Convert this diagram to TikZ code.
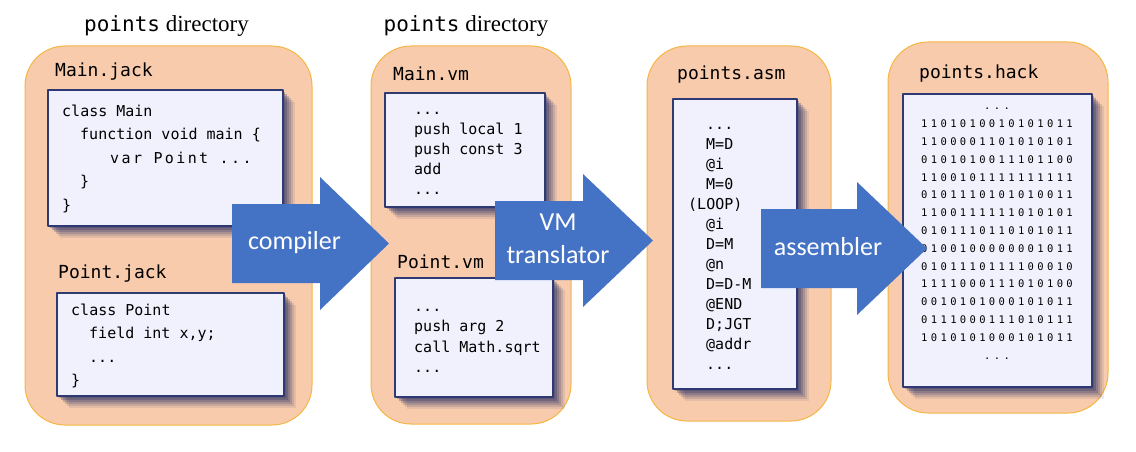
\documentclass[tikz,border=0pt]{standalone}
\usepackage{fontspec}
\setmainfont{Liberation Serif}
\setmonofont{DejaVu Sans Mono}
\newfontfamily\arrowfont{Carlito}
\newfontfamily\varmono[LetterSpace=16]{DejaVu Sans Mono}
\newfontfamily\binmono[LetterSpace=32]{DejaVu Sans Mono}
\usetikzlibrary{shadows}
\definecolor{panelfill}{RGB}{248,203,173}
\definecolor{paneledge}{RGB}{245,182,66}
\definecolor{boxfill}{RGB}{240,241,253}
\definecolor{boxedge}{RGB}{47,58,117}
\definecolor{shadowblue}{RGB}{52,56,104}
\definecolor{arrowblue}{RGB}{68,114,196}
\begin{document}
\begin{tikzpicture}[x=1pt, y=-1pt, line join=round, line cap=round,
		panel/.style={draw=paneledge, fill=panelfill, line width=1pt, rounded corners=40pt, inner sep=0pt},
		filebox/.style={draw=boxedge, fill=boxfill, line width=1.2pt, inner sep=0pt,
			drop shadow={shadow xshift=2pt, shadow yshift=-2pt, fill=shadowblue, opacity=.3},
			drop shadow={shadow xshift=4pt, shadow yshift=-4pt, fill=shadowblue, opacity=.3},
			drop shadow={shadow xshift=6pt, shadow yshift=-6pt, fill=shadowblue, opacity=.25},
			drop shadow={shadow xshift=8pt, shadow yshift=-8pt, fill=shadowblue, opacity=.2},
			drop shadow={shadow xshift=10pt, shadow yshift=-10pt, fill=shadowblue, opacity=.15},
			drop shadow={shadow xshift=12pt, shadow yshift=-12pt, fill=shadowblue, opacity=.1}},
		filename/.style={anchor=base west, inner sep=0pt, font=\fontsize{18}{20}\selectfont\ttfamily},
		dirtitle/.style={anchor=base, inner sep=0pt, font=\fontsize{23}{26}\selectfont\rmfamily},
		code/.style={anchor=base west, inner sep=0pt, align=left, font=\fontsize{15}{23.5}\selectfont\ttfamily},
		arrowlabel/.style={anchor=base, inner sep=0pt, text=white, align=center, font=\fontsize{26}{33}\selectfont\arrowfont}]
	\useasboundingbox (0,0) rectangle (1136,452);
	% folders
	\node[panel, minimum width=287, minimum height=379] (jackdir) at (168.5,235.5) {};
	\node[panel, minimum width=200, minimum height=378] (vmdir) at (471,235) {};
	\node[panel, minimum width=184, minimum height=375] (asmdir) at (739,233.5) {};
	\node[panel, minimum width=220, minimum height=371] (hackdir) at (998,227.5) {};
	\node[dirtitle] (jacktitle) at (166.5,32) {{\fontsize{21}{24}\selectfont\ttfamily points} directory};
	\node[dirtitle] (vmtitle) at (466,32) {{\fontsize{21}{24}\selectfont\ttfamily points} directory};
	% file names
	\node[filename] (mainjackname) at (55,77) {Main.jack};
	\node[filename] (pointjackname) at (58,278) {Point.jack};
	\node[filename] (mainvmname) at (393,81) {Main.vm};
	\node[filename] (pointvmname) at (397,268) {Point.vm};
	\node[filename] (asmname) at (677,80) {points.asm};
	\node[filename] (hackname) at (919,79) {points.hack};
	% files
	\node[filebox, minimum width=235, minimum height=136] (mainjack) at (165.5,158) {};
	\node[filebox, minimum width=227, minimum height=103] (pointjack) at (170.5,344.5) {};
	\node[filebox, minimum width=160, minimum height=114] (mainvm) at (465,150) {};
	\node[filebox, minimum width=158, minimum height=119] (pointvm) at (474,337.5) {};
	\node[filebox, minimum width=124, minimum height=290] (asmfile) at (735,244) {};
	\node[filebox, minimum width=189, minimum height=293] (hackfile) at (997.5,240.5) {};
	% contents (placed by the baseline of their last line)
	\node[code] (mainjackcode) at (62,210) {class Main\\
		\hspace*{18pt}function void main \{\\
		\hspace*{48pt}{\varmono var Point ...}\\
		\hspace*{18pt}\}\\
		\}};
	\node[code] (pointjackcode) at (71,385.5) {class Point\\
		\hspace*{18pt}field int x,y;\\
		\hspace*{18pt}...\\
		\}};
	\node[code, font=\fontsize{15}{20}\selectfont\ttfamily] (mainvmcode) at (414,194) {...\\push local 1\\push const 3\\add\\...};
	\node[code, font=\fontsize{15}{20.5}\selectfont\ttfamily] (pointvmcode) at (414,372.5) {...\\push arg 2\\call Math.sqrt\\...};
	\node[code, font=\fontsize{15}{20}\selectfont\ttfamily] (asmcode) at (688,369) {\hspace*{18pt}...\\
		\hspace*{18pt}M=D\\ \hspace*{18pt}@i\\ \hspace*{18pt}M=0\\ (LOOP)\\
		\hspace*{18pt}@i\\ \hspace*{18pt}D=M\\ \hspace*{18pt}@n\\ \hspace*{18pt}D=D-M\\
		\hspace*{18pt}@END\\ \hspace*{18pt}D;JGT\\ \hspace*{18pt}@addr\\ \hspace*{18pt}...};
	\node[code, anchor=base, align=center, font=\fontsize{10.5}{17.8}\binmono] (hackcode) at (997,359) {...\\
		1101010010101011\\ 1100001101010101\\ 0101010011101100\\ 1100101111111111\\
		0101110101010011\\ 1100111111010101\\ 0101110110101011\\ 0100100000001011\\
		0101110111100010\\ 1111000111010100\\ 0010101000101011\\ 0111000111010111\\
		1010101000101011\\ ...};
	% translation steps
	\foreach \xa/\xb/\xc/\ym in {232/320/389/243.5, 495/583/653/240.5, 761/857/927/248.5}
		\fill[arrowblue] (\xa,\ym-39.5) -- (\xb,\ym-39.5) -- (\xb,\ym-66.5) -- (\xc,\ym)
			-- (\xb,\ym+66.5) -- (\xb,\ym+39.5) -- (\xa,\ym+39.5) -- cycle;
	\node[arrowlabel] (compiler) at (294.5,249) {compiler};
	\node[arrowlabel] (vmtranslator) at (558,263) {VM\\translator};
	\node[arrowlabel] (assembler) at (828,255) {assembler};
\end{tikzpicture}
\end{document}
